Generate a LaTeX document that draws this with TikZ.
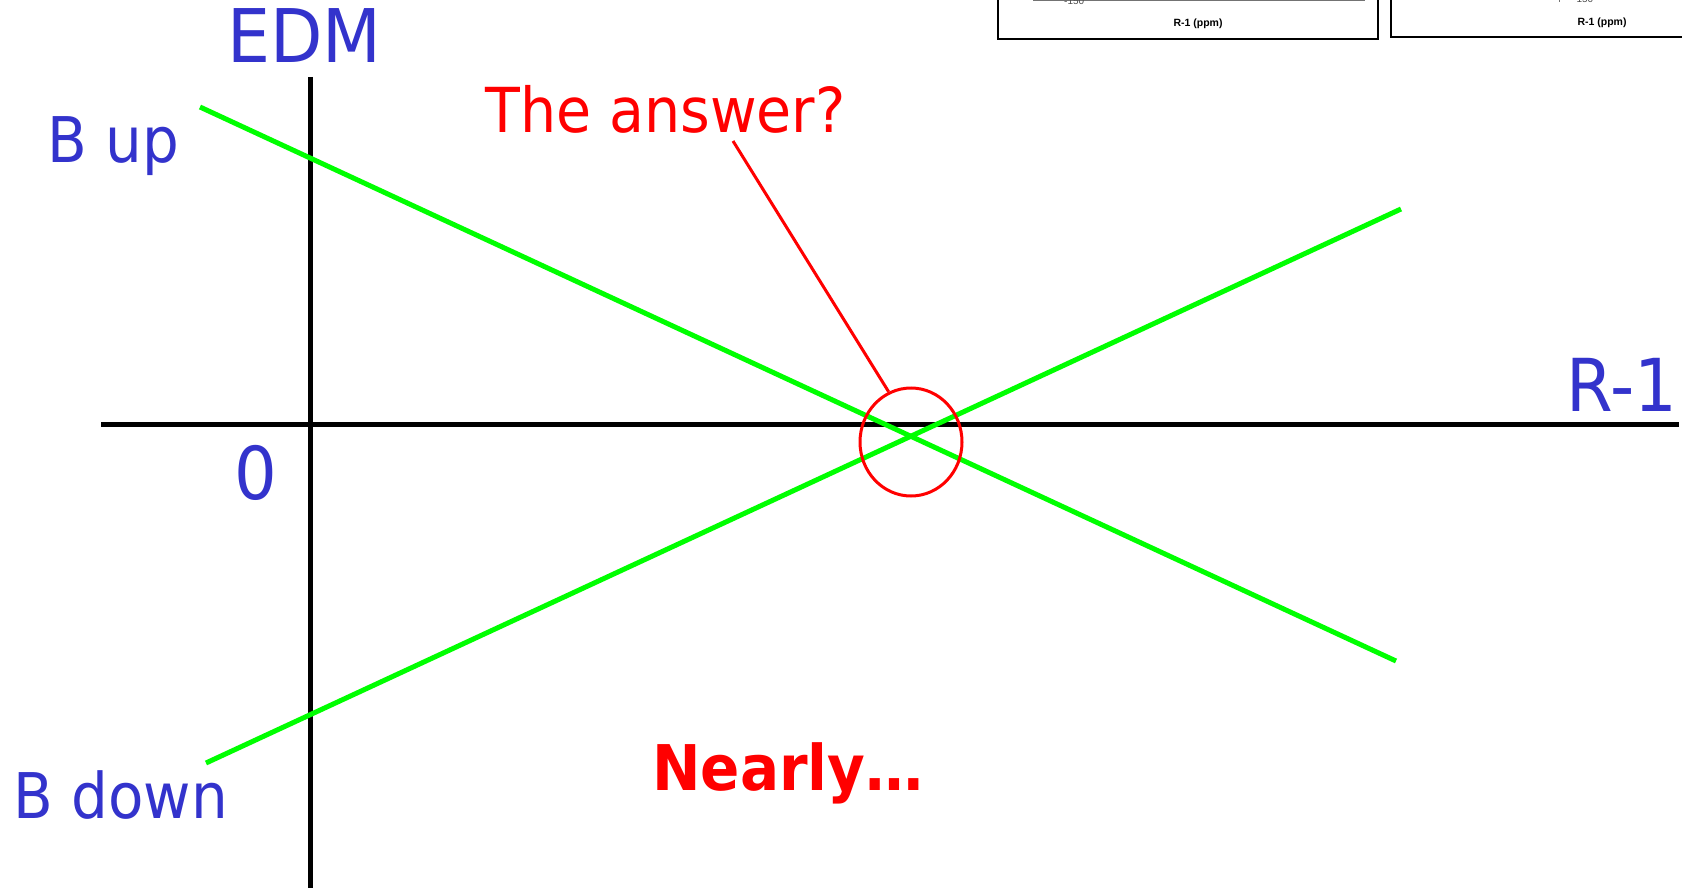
\documentclass[tikz,border=0pt]{standalone}
\usepackage{fontspec}
\setmainfont{DejaVu Sans}[FakeStretch=0.92]
\setsansfont{Liberation Sans}
\usetikzlibrary{shapes.geometric}
\definecolor{lblblue}{RGB}{51,51,204}
\definecolor{lgreen}{RGB}{0,255,0}
\begin{document}
\begin{tikzpicture}[x=1pt,y=-1pt,
  lbl/.style={text=lblblue, inner sep=0pt, anchor=base west},
  redlbl/.style={text=red, inner sep=0pt, anchor=base west},
  axisline/.style={line width=5pt, black},
  bline/.style={line width=5pt, lgreen},
  redline/.style={line width=3pt, red},
  boxline/.style={line width=1.5pt, black},
  smalltxt/.style={font=\sffamily\bfseries\fontsize{10.5}{12}\selectfont, inner sep=0pt},
  ticktxt/.style={font=\sffamily\fontsize{10}{12}\selectfont, inner sep=0pt, anchor=base west, text=black!70}
]
\useasboundingbox (0,0) rectangle (1682,888);
\fill[white] (0,0) rectangle (1682,888);

% partial plot boxes at top right
\draw[boxline] (998,-10) -- (998,39) -- (1378,39) -- (1378,-10);
\draw[line width=1pt, black!55] (1033,1) -- (1365,1);
\node[ticktxt] (t1) at (1064,5) {-150};
\draw[line width=1pt, black!55] (1089,1) -- (1094,1);
\node[smalltxt] (ppm1) at (1198,24) {R-1 (ppm)};

\draw[boxline] (1391,-10) -- (1391,37) -- (1700,37);
\node[ticktxt] (t2) at (1573,3) {-150};
\draw[line width=1pt, black!55] (1559,-2) -- (1559,2);
\node[smalltxt] (ppm2) at (1602,23) {R-1 (ppm)};

% axes
\coordinate (vtop) at (310,77);
\coordinate (vbot) at (310,895);
\coordinate (hleft) at (101,424);
\coordinate (hright) at (1679,424);
\draw[axisline] (vtop) -- (vbot);
\draw[axisline] (hleft) -- (hright);

% green lines
\coordinate (up1) at (200,107);
\coordinate (up2) at (1396,661);
\coordinate (dn1) at (206,763);
\coordinate (dn2) at (1401,209);
\draw[bline] (up1) -- (up2);
\draw[bline] (dn1) -- (dn2);

% circle and pointer
\node[ellipse, draw=red, line width=3pt, minimum width=102pt, minimum height=108pt, inner sep=0pt] (circ) at (911,442) {};
\coordinate (qtip) at (733,141);
\draw[redline] (qtip) -- (circ.114);

% labels
\node[lbl, font=\fontsize{74}{80}\selectfont] (edm) at (227,63) {EDM};
\node[lbl, font=\fontsize{63}{70}\selectfont] (bup) at (47,163) {B up};
\node[lbl, font=\fontsize{63}{70}\selectfont] (bdown) at (13,818) {B down};
\node[lbl, font=\fontsize{73}{80}\selectfont] (r1) at (1566,411) {R-1};
\node[lbl, font=\fontsize{73}{80}\selectfont] (zero) at (234,499) {0};
\node[redlbl, font=\fontsize{62}{70}\selectfont] (ans) at (485,133) {The answer?};
\node[redlbl, font=\bfseries\fontsize{63}{70}\selectfont] (nearly) at (652,790) {Nearly…};
\end{tikzpicture}
\end{document}
